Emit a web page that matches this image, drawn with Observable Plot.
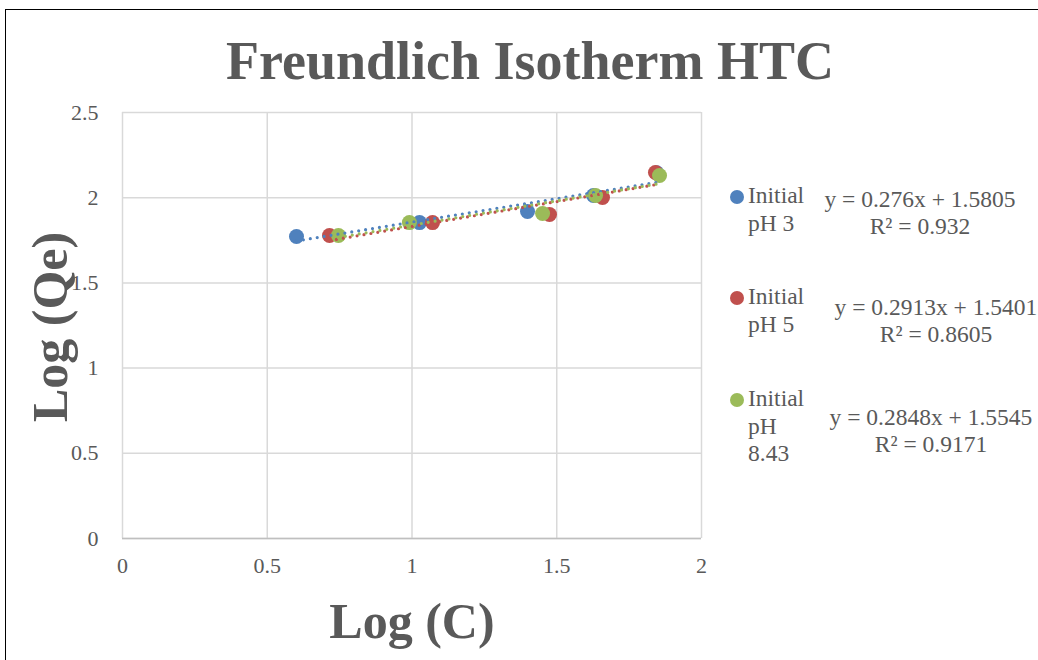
<!DOCTYPE html>
<html><head><meta charset="utf-8">
<script src="https://cdn.jsdelivr.net/npm/d3@7"></script>
<script src="https://cdn.jsdelivr.net/npm/@observablehq/plot@0.6"></script>
<style>
body{margin:0;background:#fff;}
#wrap{position:relative;width:1038px;height:660px;overflow:hidden;font-family:"Liberation Serif","Times New Roman",serif;color:#595959;}
#border{position:absolute;left:5px;top:9px;width:1100px;height:700px;border:1.5px solid #000;}
.t{position:absolute;white-space:nowrap;}
#title{left:0;width:1060px;text-align:center;top:30px;font-size:54px;font-weight:bold;}
#ylab{left:50px;top:327px;font-size:50px;font-weight:bold;transform:translate(-50%,-50%) rotate(-90deg);}
#xlab{left:412px;top:592px;font-size:50px;font-weight:bold;transform:translateX(-50%);}
.leg{font-size:23.5px;line-height:27.5px;}
.eq{font-size:23.5px;line-height:27px;text-align:center;transform:translateX(-50%);}
.dot{position:absolute;width:14px;height:14px;border-radius:50%;}
svg{position:absolute;left:0;top:0;}
</style></head><body>
<div id="wrap"><div id="border"></div><div id="chart"></div>
<div class="t" id="title">Freundlich Isotherm HTC</div>
<div class="t" id="ylab">Log (Qe)</div>
<div class="t" id="xlab">Log (C)</div>
<div id="legend"></div>
</div>
<script>
const seriesNames = ["Initial pH 3", "Initial pH 5", "Initial pH 8.43"];
const legendLines = [["Initial","pH 3"],["Initial","pH 5"],["Initial","pH","8.43"]];
const colors = ["#4F81BD", "#C0504D", "#9BBB59"];
const logC_pH3 = [0.601, 1.026, 1.399, 1.627, 1.845];
const logQe_pH3 = [1.772, 1.854, 1.919, 2.013, 2.146];
const logC_pH5 = [0.715, 1.071, 1.475, 1.658, 1.841];
const logQe_pH5 = [1.778, 1.854, 1.901, 2.001, 2.148];
const logC_pH843 = [0.746, 0.991, 1.451, 1.634, 1.855];
const logQe_pH843 = [1.778, 1.854, 1.907, 2.013, 2.130];
const slopes = [0.276, 0.2913, 0.2848];
const intercepts = [1.5805, 1.5401, 1.5545];
const equations = ["y = 0.276x + 1.5805", "y = 0.2913x + 1.5401", "y = 0.2848x + 1.5545"];
const r2Labels = ["R² = 0.932", "R² = 0.8605", "R² = 0.9171"];
const xTicks = [0, 0.5, 1, 1.5, 2];
const yTicks = [0, 0.5, 1, 1.5, 2, 2.5];

const xs = [logC_pH3, logC_pH5, logC_pH843];
const ys = [logQe_pH3, logQe_pH5, logQe_pH843];
const points = [];
const trend = [];
seriesNames.forEach((s, i) => {
  xs[i].forEach((x, j) => points.push({series: s, x, y: ys[i][j]}));
  const lo = d3.min(xs[i]), hi = d3.max(xs[i]);
  trend.push({series: s, x: lo, y: slopes[i] * lo + intercepts[i]});
  trend.push({series: s, x: hi, y: slopes[i] * hi + intercepts[i]});
});

const plot = Plot.plot({
  width: 1038, height: 660,
  marginLeft: 122, marginRight: 337, marginTop: 112, marginBottom: 122,
  style: {fontFamily: "Liberation Serif, serif", fontSize: "22px", color: "#595959", background: "transparent", overflow: "visible"},
  x: {domain: [0, 2], label: null},
  y: {domain: [0, 2.5], label: null},
  color: {domain: seriesNames, range: colors},
  marks: [
    Plot.gridX(xTicks, {stroke: "#d9d9d9", strokeOpacity: 1, strokeWidth: 1.5}),
    Plot.gridY(yTicks, {stroke: "#d9d9d9", strokeOpacity: 1, strokeWidth: 1.5}),
    Plot.ruleY([0], {stroke: "#bfbfbf", strokeWidth: 1.5}),
    Plot.axisX(xTicks, {tickSize: 0, tickPadding: 19, tickFormat: d => String(d), label: null}),
    Plot.axisY(yTicks, {tickSize: 0, tickPadding: 24, tickFormat: d => String(d), label: null}),
    Plot.dot(points, {x: "x", y: "y", fill: "series", r: 7.5, stroke: null}),
    Plot.line(trend, {x: "x", y: "y", z: "series", stroke: "series", strokeWidth: 3.2, strokeDasharray: "0 7", strokeLinecap: "round"})
  ]
});
document.getElementById("chart").appendChild(plot);

const leg = document.getElementById("legend");
const dotCenter = [197, 298, 400];
const legTop = [182, 283, 385];
const eqCenter = [920, 936, 931];
const eqTop = [186, 294, 404];
seriesNames.forEach((s, i) => {
  const d = document.createElement("div");
  d.className = "dot"; d.style.background = colors[i];
  d.style.left = "730px"; d.style.top = (dotCenter[i] - 7) + "px";
  leg.appendChild(d);
  const t = document.createElement("div");
  t.className = "t leg"; t.style.left = "748px"; t.style.top = legTop[i] + "px";
  t.innerHTML = legendLines[i].join("<br>");
  leg.appendChild(t);
  const e = document.createElement("div");
  e.className = "t eq"; e.style.left = eqCenter[i] + "px"; e.style.top = eqTop[i] + "px";
  e.innerHTML = equations[i] + "<br>" + r2Labels[i];
  leg.appendChild(e);
});
</script>
</body></html>
